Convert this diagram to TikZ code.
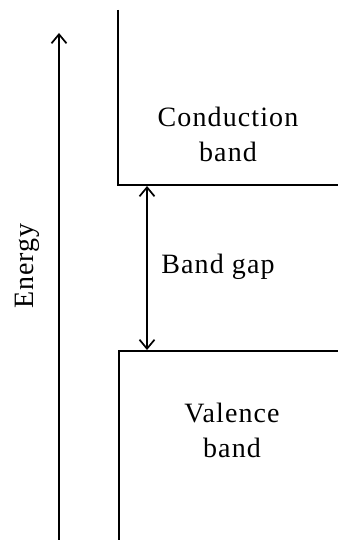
\documentclass[tikz,border=0pt]{standalone}
\usepackage{fontspec}
\setmainfont{Liberation Serif}[LetterSpace=4]
\usetikzlibrary{arrows.meta}
\begin{document}
\begin{tikzpicture}[x=1pt,y=-1pt,
  band/.style={line width=2pt},
  tip/.tip={Straight Barb[length=9pt,width=15pt,line width=1.7pt]},
  arr/.style={line width=1.8pt,-tip},
  lbl/.style={font=\fontsize{28}{35}\selectfont,align=center,inner sep=0pt}]
\useasboundingbox (0,0) rectangle (338,540);
% Energy axis
\coordinate (ebot) at (59,540);
\coordinate (etop) at (59,33);
\draw[arr] (ebot) -- (etop);
\node[lbl,rotate=90] (energy) at (27,266) {Energy};
% Conduction band
\coordinate (ctop) at (118,10);
\coordinate (ccorner) at (118,185);
\coordinate (cright) at (338,185);
\draw[band] (ctop) -- (ccorner) -- (cright);
\node[lbl] (cond) at (228,134) {Conduction\\band};
% Valence band
\coordinate (vbot) at (119,540);
\coordinate (vcorner) at (119,351);
\coordinate (vright) at (338,351);
\draw[band] (vbot) -- (vcorner) -- (vright);
\node[lbl] (val) at (232,430) {Valence\\band};
% Band gap
\coordinate (gtop) at (147,186);
\coordinate (gbot) at (147,350);
\draw[line width=1.8pt,tip-tip] (gtop) -- (gbot);
\node[lbl] (gap) at (218,267) {Band gap};
\end{tikzpicture}
\end{document}
